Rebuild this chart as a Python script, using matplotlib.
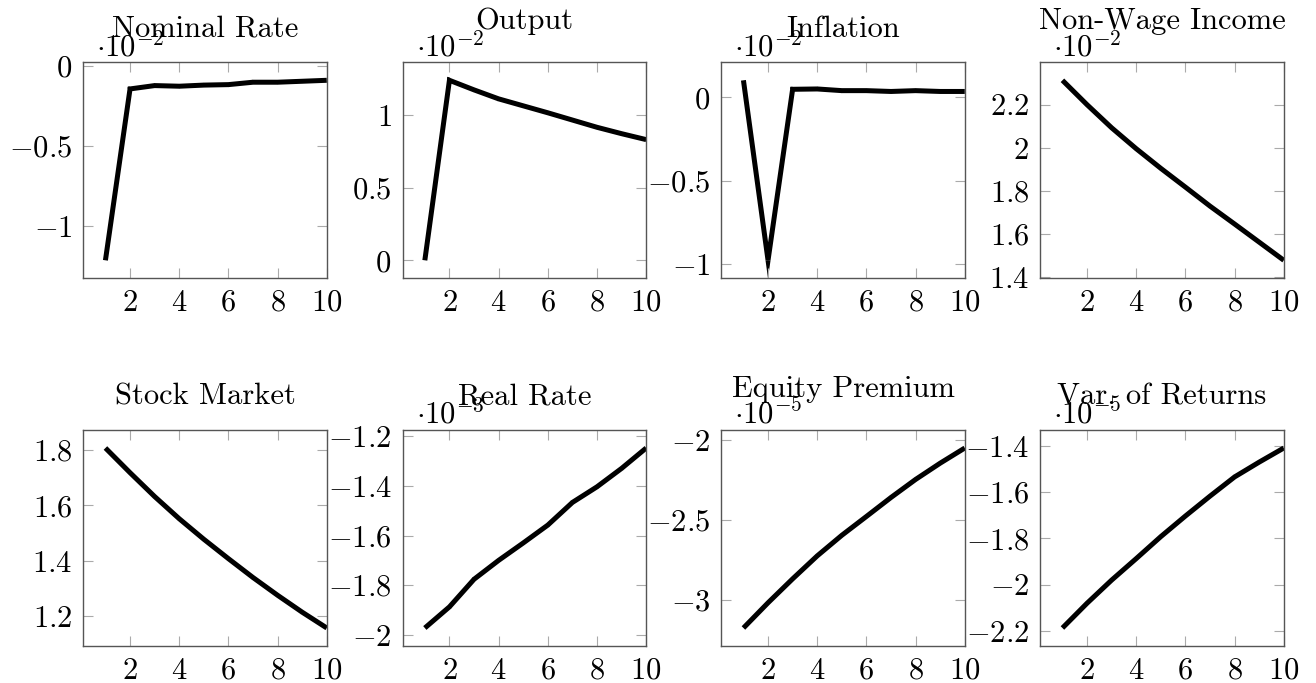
import matplotlib
matplotlib.use("Agg")
import matplotlib.pyplot as plt
from matplotlib.ticker import FuncFormatter, MultipleLocator
from matplotlib.patches import Polygon
from matplotlib.transforms import IdentityTransform
import numpy as np

plt.rcParams['mathtext.fontset'] = 'cm'
plt.rcParams['font.family'] = 'cmr10'
plt.rcParams['axes.unicode_minus'] = False

periods = [1, 2, 3, 4, 5, 6, 7, 8, 9, 10]

titles = ["Nominal Rate", "Output", "Inflation", "Non-Wage Income",
          "Stock Market", "Real Rate", "Equity Premium", "Var. of Returns"]

# values in units of the scale shown in the axis label
nominal_rate = [-1.213, -0.142, -0.121, -0.125, -0.118, -0.115, -0.100, -0.100, -0.094, -0.088]
output = [0.0, 1.241, 1.175, 1.113, 1.065, 1.017, 0.967, 0.917, 0.873, 0.832]
inflation = [0.102, -0.978, 0.048, 0.050, 0.040, 0.040, 0.035, 0.040, 0.035, 0.035]
non_wage_income = [2.313, 2.200, 2.093, 1.996, 1.905, 1.818, 1.730, 1.647, 1.563, 1.479]
stock_market = [1.807, 1.718, 1.632, 1.552, 1.478, 1.408, 1.340, 1.276, 1.215, 1.158]
real_rate = [-1.972, -1.887, -1.776, -1.700, -1.630, -1.558, -1.467, -1.404, -1.330, -1.248]
equity_premium = [-3.178, -3.020, -2.870, -2.726, -2.597, -2.479, -2.360, -2.247, -2.145, -2.050]
var_returns = [-2.187, -2.080, -1.980, -1.887, -1.792, -1.703, -1.617, -1.534, -1.470, -1.409]

series = [nominal_rate, output, inflation, non_wage_income,
          stock_market, real_rate, equity_premium, var_returns]
scale_exp = [-2, -2, -2, -2, None, -3, -5, -5]
y_steps = [0.5, 0.5, 0.5, 0.2, 0.2, 0.2, 0.5, 0.2]
x_ticks = [2, 4, 6, 8, 10]

W, H = 1316, 683
DPI = 100
fig = plt.figure(figsize=(W / DPI, H / DPI), dpi=DPI)

lefts = [83.3, 402.7, 721.3, 1040.3]
tops = [62.3, 430.0]
aw, ah = 243.5, 216.0
LW = 3.6

spine_c = '#555555'
tick_c = '#aaaaaa'


def fmt(v, pos):
    s = ('%.2f' % v).rstrip('0').rstrip('.')
    if s in ('-0', ''):
        s = '0'
    return r'$%s$' % s


def add_miter_joins(ax, xs, ys, lw_pt):
    """Fill the full (unlimited) miter wedge at each interior vertex, like TikZ."""
    hw = lw_pt * DPI / 72.0 / 2.0
    pts = ax.transData.transform(np.column_stack([xs, ys]))
    for k in range(1, len(pts) - 1):
        p0, p, p1 = pts[k - 1], pts[k], pts[k + 1]
        d1 = (p - p0) / np.linalg.norm(p - p0)
        d2 = (p1 - p) / np.linalg.norm(p1 - p)
        cross = d1[0] * d2[1] - d1[1] * d2[0]
        if abs(cross) < 1e-6:
            continue
        n1 = np.array([-d1[1], d1[0]])
        n2 = np.array([-d2[1], d2[0]])
        s = -np.sign(cross)
        m = n1 + n2
        m = m / np.linalg.norm(m)
        L = hw / np.dot(m, n1)
        A = p + s * hw * n1
        B = p + s * hw * n2
        T = p + s * m * L
        poly = Polygon([p, A, T, B], closed=True, facecolor='black',
                       edgecolor='none', transform=IdentityTransform())
        ax.add_artist(poly)
        poly.set_clip_path(ax.patch)


for i, (title, vals) in enumerate(zip(titles, series)):
    r, c = divmod(i, 4)
    left = lefts[c] / W
    bottom = 1 - (tops[r] + ah) / H
    ax = fig.add_axes([left, bottom, aw / W, ah / H])
    ax.plot(periods, vals, color='black', lw=LW, solid_joinstyle='miter',
            solid_capstyle='butt')
    lo, hi = min(vals), max(vals)
    rng = hi - lo
    ax.set_ylim(lo - 0.1 * rng, hi + 0.1 * rng)
    ax.set_xlim(0.1, 10)
    ax.set_xticks(x_ticks)
    ax.yaxis.set_major_locator(MultipleLocator(y_steps[i]))
    ax.yaxis.set_major_formatter(FuncFormatter(fmt))
    ax.xaxis.set_major_formatter(FuncFormatter(fmt))
    ax.tick_params(direction='in', length=7.5, width=0.8, color=tick_c,
                   top=True, right=True, labelsize=22, pad=8)
    for sp in ax.spines.values():
        sp.set_color(spine_c)
        sp.set_linewidth(1.0)
    add_miter_joins(ax, periods, vals, LW)
    desc = any(ch in 'gjpqy' for ch in title)
    off = 33 if desc else 25.5
    ax.text(0.5, 1 + off / ah, title, transform=ax.transAxes, ha='center',
            va='baseline', fontsize=22, family='cmr10')
    if scale_exp[i] is not None:
        ax.text(13 / aw, 1 + 6.5 / ah, r'$\cdot10^{%d}$' % scale_exp[i],
                transform=ax.transAxes, ha='left', va='baseline', fontsize=22)

fig.savefig('out.png', dpi=DPI)
